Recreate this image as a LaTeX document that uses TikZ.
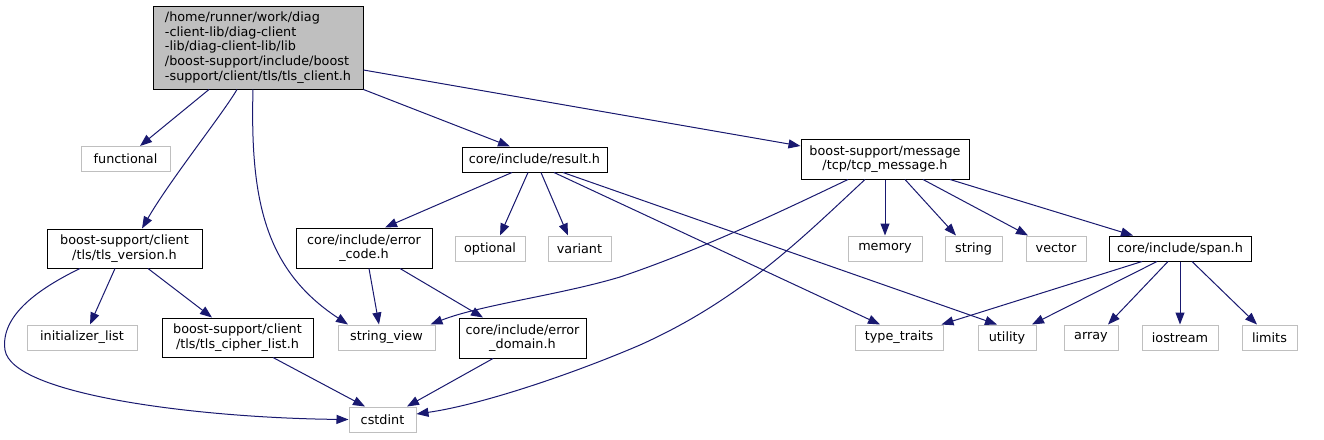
\documentclass[tikz,border=0pt]{standalone}
\usepackage{fontspec}
\setmainfont{DejaVu Sans}
\usetikzlibrary{arrows.meta}
\definecolor{edgecol}{HTML}{191970}
\definecolor{sysgray}{HTML}{BFBFBF}
\definecolor{mainfill}{HTML}{BFBFBF}
\begin{document}
\begin{tikzpicture}[x=1pt,y=-1pt,
  base/.style={inner sep=0pt, align=center, font=\fontsize{12.8}{14.6}\selectfont, minimum height=25pt},
  hdr/.style={base, draw=black, line width=1pt, fill=white},
  sys/.style={base, draw=sysgray, line width=1pt, fill=white},
  mainnode/.style={base, draw=black, line width=1pt, fill=mainfill, align=left},
  dep/.style={draw=edgecol, line width=1pt, -{Triangle[length=12pt,width=9pt]}}
]
\fill[white] (0,0) rectangle (1324,439);
\useasboundingbox (0,0) rectangle (1324,439);

% nodes
\node[mainnode, minimum width=210pt, minimum height=83pt] (m) at (258,47.5)
  {/home/runner/work/diag\\-client-lib/diag-client\\-lib/diag-client-lib/lib\\/boost-support/include/boost\\-support/client/tls/tls\_client.h};
\node[sys, minimum width=89pt] (fn) at (125.5,159) {functional};
\node[hdr, minimum width=155pt, minimum height=39pt] (tv) at (124.5,248.5) {boost-support/client\\/tls/tls\_version.h};
\node[sys, minimum width=110pt] (il) at (82,337.5) {initializer\_list};
\node[hdr, minimum width=151pt, minimum height=39pt] (tc) at (237.5,337.5) {boost-support/client\\/tls/tls\_cipher\_list.h};
\node[sys, minimum width=97pt] (sv) at (386.5,337.5) {string\_view};
\node[hdr, minimum width=136pt, minimum height=40pt] (ec) at (364,248) {core/include/error\\\_code.h};
\node[sys, minimum width=67pt] (ci) at (382.5,419.5) {cstdint};
\node[hdr, minimum width=145pt] (rs) at (534.5,159.5) {core/include/result.h};
\node[sys, minimum width=70pt] (op) at (490,248.5) {optional};
\node[sys, minimum width=63pt] (va) at (579.5,248.5) {variant};
\node[hdr, minimum width=127pt, minimum height=40pt] (ed) at (522.5,338) {core/include/error\\\_domain.h};
\node[hdr, minimum width=168pt, minimum height=40pt] (tm) at (885,159) {boost-support/message\\/tcp/tcp\_message.h};
\node[sys, minimum width=74pt] (me) at (885,248.5) {memory};
\node[sys, minimum width=57pt] (st) at (973.5,248.5) {string};
\node[sys, minimum width=60pt] (ve) at (1056,248.5) {vector};
\node[hdr, minimum width=142pt] (sp) at (1180,248.5) {core/include/span.h};
\node[sys, minimum width=88pt] (tt) at (899,337.5) {type\_traits};
\node[sys, minimum width=58pt] (ut) at (1007,337.5) {utility};
\node[sys, minimum width=54pt] (ar) at (1091,337.5) {array};
\node[sys, minimum width=76pt] (io) at (1180,337.5) {iostream};
\node[sys, minimum width=55pt] (li) at (1269.5,337.5) {limits};

% edges from main
\draw[dep] ([xshift=-49pt]m.south) -- ([xshift=14.5pt]fn.north);
\draw[dep] ([xshift=-21pt]m.south) .. controls (222,115) and (170,180) .. ([xshift=17.5pt]tv.north);
\draw[dep] ([xshift=-5pt]m.south) .. controls (250,200) and (265,270) .. ([xshift=-38.5pt]sv.north);
\draw[dep] (m.south east) -- ([xshift=-24.5pt]rs.north);
\draw[dep] ([yshift=-22.5pt]m.east) -- ([yshift=13pt]tm.west);

% tls_version
\draw[dep] ([xshift=-9.5pt]tv.south) -- ([xshift=8pt]il.north);
\draw[dep] ([xshift=23.5pt]tv.south) -- ([xshift=-25.5pt]tc.north);
\draw[dep] ([xshift=-44.5pt]tv.south) .. controls (40,288) and (0,315) .. (5,350)
   .. controls (12,395) and (200,418) .. (ci.west);
\draw[dep] ([xshift=35.5pt]tc.south) -- ([xshift=-17.5pt]ci.north);

% error code / domain
\draw[dep] ([xshift=5pt]ec.south) -- ([xshift=-7.5pt]sv.north);
\draw[dep] ([xshift=36pt]ec.south) -- ([xshift=-39.5pt]ed.north);
\draw[dep] ([xshift=-29.5pt]ed.south) -- ([xshift=24.5pt]ci.north);

% result
\draw[dep] ([xshift=-22.5pt]rs.south) -- ([xshift=21pt]ec.north);
\draw[dep] ([xshift=-6.5pt]rs.south) -- ([xshift=10pt]op.north);
\draw[dep] ([xshift=6.5pt]rs.south) -- ([xshift=-11.5pt]va.north);
\draw[dep] ([xshift=19.5pt]rs.south) -- ([xshift=-19pt]tt.north);
\draw[dep] ([xshift=28.5pt]rs.south) -- ([xshift=-10pt]ut.north);

% tcp message
\draw[dep] ([xshift=-37pt]tm.south) .. controls (780,212) and (700,250) .. (620,277)
   .. controls (560,295) and (480,305) .. ([xshift=-5pt]sv.north east);
\draw[dep] ([xshift=-20pt]tm.south) .. controls (800,240) and (740,300) .. (640,345)
   .. controls (570,375) and (480,405) .. ([yshift=5.5pt]ci.east);
\draw[dep] (tm.south) -- (me.north);
\draw[dep] ([xshift=20pt]tm.south) -- ([xshift=-17.5pt]st.north);
\draw[dep] ([xshift=38pt]tm.south) -- ([xshift=-28pt]ve.north);
\draw[dep] ([xshift=65pt]tm.south) -- ([xshift=-47pt]sp.north);

% span
\draw[dep] ([xshift=-38pt]sp.south) -- ([xshift=-2pt]tt.north east);
\draw[dep] ([xshift=-23pt]sp.south) -- ([xshift=25pt]ut.north);
\draw[dep] ([xshift=-12pt]sp.south) -- ([xshift=17pt]ar.north);
\draw[dep] (sp.south) -- (io.north);
\draw[dep] ([xshift=12pt]sp.south) -- ([xshift=-12.5pt]li.north);
\end{tikzpicture}
\end{document}
